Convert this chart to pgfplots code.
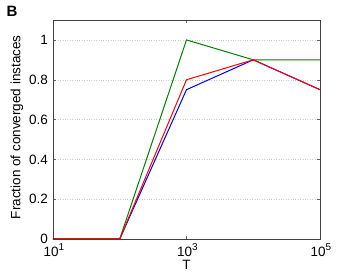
\documentclass[border=0pt]{standalone}
\usepackage{fontspec}
\setmainfont{Liberation Sans}
\usepackage{pgfplots}
\pgfplotsset{compat=1.18}
\newcommand{\tp}[1]{10\raisebox{6pt}{\fontsize{10}{10}\selectfont #1}}
\begin{document}
\begin{tikzpicture}[x=1pt,y=1pt]
\path[use as bounding box] (-53,-34) rectangle (301,239);
\begin{axis}[
  at={(0,0)}, anchor=south west,
  scale only axis, width=267pt, height=219pt,
  xmode=log, xmin=10, xmax=100000, ymin=0, ymax=1.1,
  xtick={10,1000,100000},
  xticklabels={\tp{1},\tp{3},\tp{5}},
  minor xtick={},
  ytick={0,0.2,0.4,0.6,0.8,1},
  yticklabels={0,0.2,0.4,0.6,0.8,1},
  xticklabel style={font=\fontsize{13.5}{14}\selectfont, anchor=north, inner sep=0pt, yshift=-4.5pt, xshift=1pt},
  yticklabel style={font=\fontsize{13.5}{14}\selectfont, anchor=east, inner sep=0pt, xshift=-5pt},
  xlabel={T},
  ylabel={Fraction of converged instaces},
  xlabel style={font=\fontsize{13.5}{14}\selectfont, at={(axis description cs:0.5,0)}, anchor=north, inner sep=0pt, yshift=-21pt},
  ylabel style={font=\fontsize{13.5}{14}\selectfont, at={(axis description cs:-0.135,0.51)}, anchor=center},
  ymajorgrids, grid style={dotted, gray!40},
  axis line style={black!75, line width=0.6pt},
  tick style={black!60},
  major tick length=3pt,
  tick align=inside,
  xtick pos=both, ytick pos=both,
  clip=false,
]
\addplot[blue, line width=1pt] coordinates {(10,0) (100,0) (1000,0.75) (10000,0.9) (100000,0.75)};
\addplot[green!50!black, line width=1pt] coordinates {(10,0) (100,0) (1000,1.0) (10000,0.9) (100000,0.9)};
\addplot[red, line width=1pt] coordinates {(10,0) (100,0) (1000,0.8) (10000,0.9) (100000,0.75)};
\end{axis}
\node[font=\fontsize{15}{16}\selectfont\bfseries, anchor=center] at (-41,228) {B};
\end{tikzpicture}
\end{document}
